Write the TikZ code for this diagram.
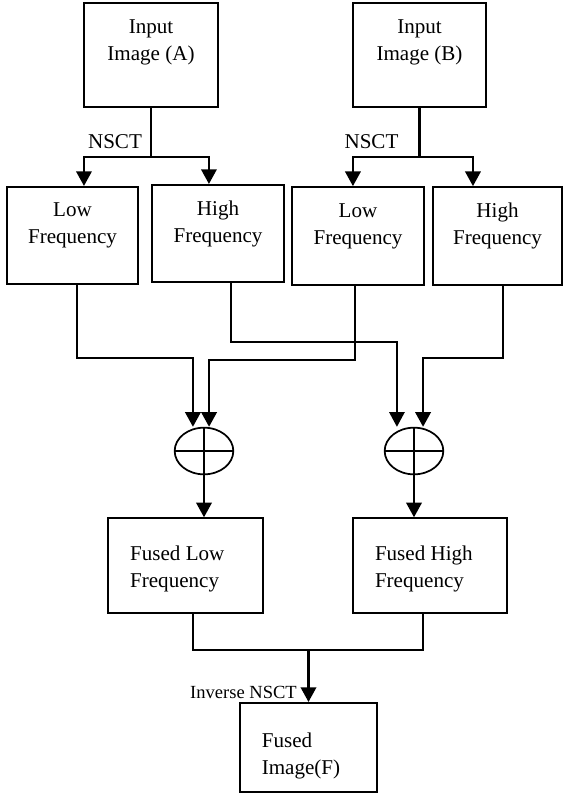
\documentclass[tikz,border=0pt]{standalone}
\usepackage{fontspec}
\setmainfont{Liberation Serif}
\usepackage{tikz}
\usetikzlibrary{shapes.geometric, arrows.meta, positioning, calc}

\begin{document}
\begin{tikzpicture}[
    x=0.75pt, y=-0.75pt,
    blk/.style={draw, line width=1.3pt, align=center, inner sep=0pt, font=\fontsize{15.8}{20.3}\selectfont},
    fusedblk/.style={blk, align=flush left, inner xsep=16.5pt},
    sumnode/.style={draw, line width=1.3pt, ellipse, minimum width=44pt, minimum height=35pt, inner sep=0pt,
        path picture={\draw[line width=1.3pt] (path picture bounding box.north) -- (path picture bounding box.south)
                      (path picture bounding box.west) -- (path picture bounding box.east);}},
    arr/.style={line width=1.9pt, -{Triangle[width=11.5pt, length=11pt]}},
    thinline/.style={line width=1.1pt},
    lbl/.style={font=\fontsize{15.8}{19}\selectfont, inner sep=0pt}
]
    \useasboundingbox (0,0) rectangle (563,794);

    % Input images
    \node[blk, minimum width=100.5pt, minimum height=78pt, text depth=22pt] (inA) at (151,55) {Input\\Image (A)};
    \node[blk, minimum width=100pt, minimum height=78pt, text depth=22pt] (inB) at (419.5,55) {Input\\Image (B)};

    % Sub-bands
    \node[blk, minimum width=98pt, minimum height=73pt, text depth=18pt] (lowA) at (72.5,235.5) {Low\\Frequency};
    \node[blk, minimum width=99pt, minimum height=73pt, text depth=18pt] (highA) at (218,233.5) {High\\Frequency};
    \node[blk, minimum width=99pt, minimum height=73.5pt, text depth=18pt] (lowB) at (358,236) {Low\\Frequency};
    \node[blk, minimum width=97pt, minimum height=73.5pt, text depth=18pt] (highB) at (497.5,236) {High\\Frequency};

    % Fusion
    \node[sumnode] (sumL) at (204,451) {};
    \node[sumnode] (sumR) at (414,451) {};

    \node[fusedblk, text width=83pt, minimum height=71pt, text depth=18pt] (fusL) at (185.5,565.5) {Fused Low\\Frequency};
    \node[fusedblk, text width=82.5pt, minimum height=71pt, text depth=18pt] (fusH) at (430,565.5) {Fused High\\Frequency};
    \node[fusedblk, text width=70pt, minimum height=67pt, text depth=11pt] (fusF) at (308.5,747.5) {Fused\\Image(F)};

    % Labels
    \node[lbl] (nsctA) at (115,142) {NSCT};
    \node[lbl] (nsctB) at (371.5,142) {NSCT};
    \node[lbl, font=\fontsize{13.9}{16}\selectfont] (invnsct) at (243.5,692) {Inverse NSCT};

    % NSCT decomposition
    \draw[line width=1.9pt] (inA.south) -- (inA.south |- 0,157) coordinate (splitA);
    \draw[arr] ($(splitA)+(0.7,0)$) -| ([xshift=8.6pt]lowA.north);
    \draw[arr] ($(splitA)-(0.7,0)$) -| ([xshift=-6.8pt]highA.north);
    \draw[line width=1.9pt] (inB.south) -- (inB.south |- 0,157) coordinate (splitB);
    \draw[arr] ($(splitB)+(0.7,0)$) -| ([xshift=-3.8pt]lowB.north);
    \draw[arr] ($(splitB)-(0.7,0)$) -| ([xshift=-18.4pt]highB.north);

    % Sub-bands to fusion rules
    \draw[arr] ([xshift=3.4pt]lowA.south) -- ([xshift=3.4pt]lowA.south |- 0,358) -| ([xshift=-8.3pt]sumL.north);
    \draw[arr] ([xshift=-2.2pt]lowB.south) -- ([xshift=-2.2pt]lowB.south |- 0,360) -| ([xshift=3.8pt]sumL.north);
    \draw[arr, line width=1.3pt] ([xshift=9.8pt]highA.south) -- ([xshift=9.8pt]highA.south |- 0,342) -| ([xshift=-12.8pt]sumR.north);
    \draw[arr] ([xshift=4.1pt]highB.south) -- ([xshift=4.1pt]highB.south |- 0,358) -| ([xshift=6.8pt]sumR.north);

    \draw[arr] (sumL.south) -- (sumL.south |- fusL.north);
    \draw[arr] (sumR.south) -- (sumR.south |- fusH.north);

    % Inverse NSCT
    \draw[thinline] ([xshift=5.6pt]fusL.south) -- ([xshift=5.6pt]fusL.south |- 0,650)
        -- ([xshift=-5.3pt]fusH.south |- 0,650) -- ([xshift=-5.3pt]fusH.south);
    \draw[arr] (fusF.north |- 0,650) -- (fusF.north);
\end{tikzpicture}
\end{document}
